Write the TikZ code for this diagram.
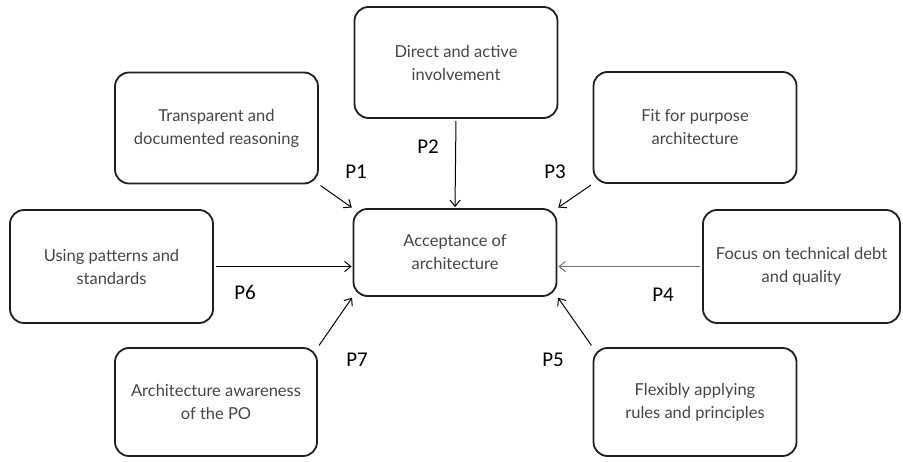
\documentclass[tikz,border=0pt]{standalone}
\usepackage{fontspec}
\setmainfont{Lato}
\newfontfamily\lblfont{Carlito}
\usetikzlibrary{arrows.meta}
\definecolor{boxtxt}{HTML}{454545}
\definecolor{boxline}{HTML}{1E1E1E}
\tikzset{
  pblk/.style={draw=boxline, line width=1.8pt, rounded corners=14pt, align=center,
               text=boxtxt, font=\fontsize{16.5}{23}\selectfont,
               minimum width=203pt, minimum height=111pt, inner sep=4pt},
  pacc/.style={pblk, minimum height=87pt},
  plbl/.style={font=\lblfont\fontsize{21}{21}\selectfont, inner sep=0pt},
  parr/.style={-{Straight Barb[length=2.2mm, width=3.6mm]}, line width=1pt,
               shorten <=2pt, shorten >=1pt},
}
\begin{document}
\begin{tikzpicture}[x=1pt, y=-1pt]
        \useasboundingbox (0,0) rectangle (903,462);
        \node[pacc](acc) at (455,252.5){Acceptance of\\architecture};
        \node[pblk](t1) at (216.5,128){Transparent and\\documented reasoning};
        \node[pblk](t2) at (456,62.5){Direct and active\\involvement};
        \node[pblk](t3) at (695,127.5){Fit for purpose\\architecture};
        \node[pblk, minimum width=197pt, minimum height=113pt](t4) at (801.5,266.5){Focus on technical debt\\and quality};
        \node[pblk, minimum height=108pt](t5) at (695,402){Flexibly applying\\rules and principles};
        \node[pblk, minimum height=113pt](t6) at (111.5,266.5){Using patterns and\\standards};
        \node[pblk, minimum width=202pt, minimum height=108pt](t7) at (216,402){Architecture awareness\\of the PO};
        % labels
        \node[plbl](l1) at (356,172){P1};
        \node[plbl](l2) at (428,147){P2};
        \node[plbl](l3) at (555,172){P3};
        \node[plbl](l4) at (663,295){P4};
        \node[plbl](l5) at (553,360){P5};
        \node[plbl](l6) at (245,292){P6};
        \node[plbl](l7) at (357,360){P7};
        % arrows
        \draw[parr](t1.south east)--(acc.north west);
        \draw[parr](t2.south)--(acc.north);
        \draw[parr](t3.south west)--(acc.north east);
        \draw[parr, draw=black!55](t4.west)--(t4.west -| acc.east);
        \draw[parr](t5.north west)--(acc.south east);
        \draw[parr](t6.east)--(t6.east -| acc.west);
        \draw[parr](t7.north east)--(acc.south west);
      \end{tikzpicture}
\end{document}
